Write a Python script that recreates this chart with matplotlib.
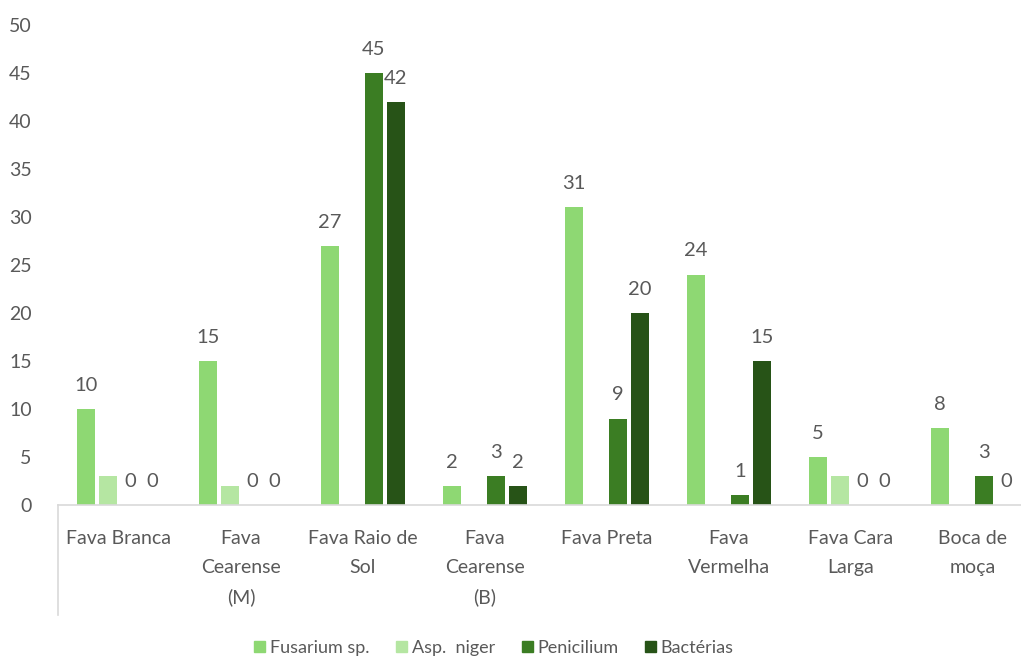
import numpy as np
import matplotlib.pyplot as plt
from matplotlib.lines import Line2D

plt.rcParams['font.family'] = ['Lato', 'DejaVu Sans']

# Data
categories = ['Fava Branca', 'Fava\nCearense\n(M)', 'Fava Raio de\nSol', 'Fava\nCearense\n(B)',
              'Fava Preta', 'Fava\nVermelha', 'Fava Cara\nLarga', 'Boca de\nmoça']
series_names = ['Fusarium sp.', 'Asp.  niger', 'Penicilium', 'Bactérias']
fusarium = [10, 15, 27, 2, 31, 24, 5, 8]
asp_niger = [3, 2, 0, 0, 0, 0, 3, 0]
penicilium = [0, 0, 45, 3, 9, 1, 0, 3]
bacterias = [0, 0, 42, 2, 20, 15, 0, 0]
series = [fusarium, asp_niger, penicilium, bacterias]
show_labels = [True, False, True, True]
colors = ['#8ed873', '#b5e6a2', '#3b7d23', '#275317']
text_color = '#595959'

fig = plt.figure(figsize=(10.21, 6.59), dpi=100)
ax = fig.add_axes([58 / 1021, (659 - 505) / 659, 976 / 1021, 480 / 659])

x = np.arange(len(categories))
step = 0.18
width = 0.145
offsets = [-1.5, -0.5, 0.5, 1.5]

for vals, name, col, lab, off in zip(series, series_names, colors, show_labels, offsets):
    bars = ax.bar(x + off * step, vals, width, color=col, label=name, zorder=2)
    if lab:
        for b, v in zip(bars, vals):
            ax.annotate(f'{v}', (b.get_x() + b.get_width() / 2, v), xytext=(0, 11),
                        textcoords='offset points', ha='center', va='bottom',
                        fontsize=14.5, color=text_color)

ax.set_xlim(-0.5, len(categories) - 0.5)
ax.set_ylim(0, 50)
ax.set_yticks(range(0, 51, 5))
ax.set_xticks(x)
ax.set_xticklabels(categories, linespacing=1.85)
ax.tick_params(axis='y', length=0, labelsize=14, labelcolor=text_color, pad=19)
ax.tick_params(axis='x', length=0, labelsize=14, labelcolor=text_color, pad=18)
for t in ax.get_xticklabels():
    t.set_verticalalignment('top')

for s in ['top', 'right', 'left']:
    ax.spines[s].set_visible(False)
ax.spines['bottom'].set_color('#d9d9d9')
ax.spines['bottom'].set_linewidth(1.2)

# left boundary tick below the axis
fig.add_artist(Line2D([58 / 1021, 58 / 1021], [(659 - 505) / 659, (659 - 615) / 659],
                      color='#d9d9d9', lw=1.2))

handles = [plt.Rectangle((0, 0), 1, 1, color=c) for c in colors]
fig.legend(handles, series_names, loc='center', bbox_to_anchor=(494 / 1021, 1 - 648 / 659),
           ncol=4, frameon=False, fontsize=13, labelcolor=text_color,
           handlelength=0.6, handleheight=0.6, handletextpad=0.25, columnspacing=1.5)

fig.savefig('out.png', dpi=100)
